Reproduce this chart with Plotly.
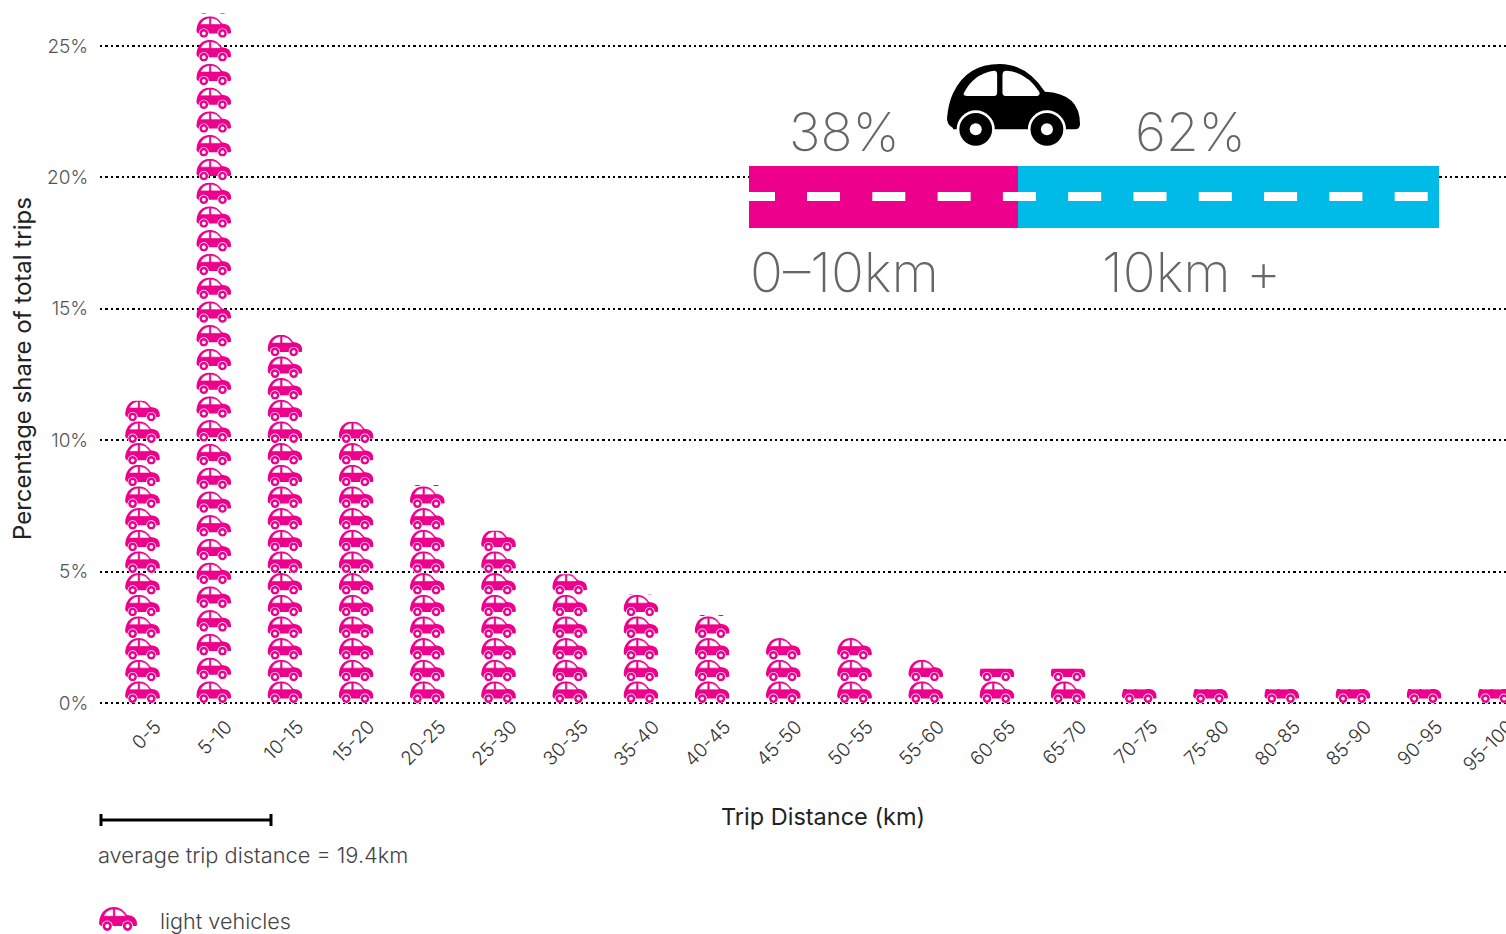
import base64
import plotly.graph_objects as go

distance_bins = ['0-5', '5-10', '10-15', '15-20', '20-25', '25-30', '30-35', '35-40', '40-45', '45-50',
                 '50-55', '55-60', '60-65', '65-70', '70-75', '75-80', '80-85', '85-90', '90-95', '95-100']
trip_share = [11.5, 26.25, 14.0, 10.7, 8.3, 6.55, 4.9, 4.15, 3.35, 2.47,
              2.47, 1.64, 1.3, 1.3, 0.53, 0.53, 0.53, 0.53, 0.53, 0.53]
# the 5-10 stack is spaced a bit wider than the others
share_per_car = [0.8245, 0.904, 0.8245, 0.8245, 0.8245, 0.8245, 0.8245, 0.8245, 0.8245, 0.8245,
                 0.8245, 0.8245, 0.8245, 0.8245, 0.8245, 0.8245, 0.8245, 0.8245, 0.8245, 0.8245]
y_ticks = [0, 5, 10, 15, 20, 25]
y_tick_labels = ['0%', '5%', '10%', '15%', '20%', '25%']

PINK = '#ec008c'
CYAN = '#00bbe7'
FONT = 'Inter'
CAR_HEIGHT = 0.8245
CAR_WIDTH = 0.49

# Page pixels of the plot area, everything outside the data is placed from these
LEFT, RIGHT, TOP, BOTTOM = 100, 1506, 12, 711


def px(x):
    return (x - LEFT) / (RIGHT - LEFT)


def py(y):
    return (BOTTOM - y) / (BOTTOM - TOP)


def car_image(color, hole, frame=0, fraction=1.0):
    # fraction keeps only the lower part of the car, for the top of a stack
    # frame thickens the window edges, the small cars need it
    top = 42 + 246 * (1 - fraction)
    windows = f'fill="#fff" stroke="{color}" stroke-width="{frame}"'
    svg = f'''<svg xmlns="http://www.w3.org/2000/svg" viewBox="622 {top} 398 {246 * fraction}" preserveAspectRatio="none">
<path fill="{color}" d="M640 234 Q622 226 622 205 Q626 160 640 130 Q680 42 780 42 Q860 42 915 125 Q1020 130 1020 222 Q1020 238 1005 238 L640 238 Z"/>
<path {windows} d="M672 130 Q700 72 762 62 Q772 62 772 72 L772 128 Q772 138 760 138 L682 138 Q670 138 672 130 Z"/>
<path {windows} d="M788 75 Q788 62 800 62 Q858 66 898 125 Q902 138 890 138 L800 138 Q788 138 788 128 Z"/>
<circle cx="708" cy="238" r="57" fill="#fff"/><circle cx="921" cy="238" r="57" fill="#fff"/>
<circle cx="708" cy="238" r="49" fill="{color}"/><circle cx="921" cy="238" r="49" fill="{color}"/>
<circle cx="708" cy="238" r="{hole}" fill="#fff"/><circle cx="921" cy="238" r="{hole}" fill="#fff"/>
</svg>'''
    return 'data:image/svg+xml;base64,' + base64.b64encode(svg.encode()).decode()


# Stack of cars per bin, the last one cut to what is left of the value
images = []
for i, share in enumerate(trip_share):
    step = share_per_car[i]
    n = 0
    while n * step < share - 0.01:
        height = min(CAR_HEIGHT, share - n * step)
        images.append(dict(source=car_image(PINK, 21, 8, height / CAR_HEIGHT), xref='x', yref='y', x=i,
                           y=n * step, sizex=CAR_WIDTH, sizey=height, sizing='stretch',
                           xanchor='center', yanchor='bottom', layer='above'))
        n += 1

# Big black car and the legend car
images.append(dict(source=car_image('#000', 18), xref='paper', yref='paper', x=px(947), y=py(64),
                   sizex=px(1080) - px(947), sizey=py(64) - py(146), sizing='stretch',
                   xanchor='left', yanchor='top', layer='above'))
images.append(dict(source=car_image(PINK, 21, 8), xref='paper', yref='paper', x=px(99), y=py(907),
                   sizex=px(137) - px(99), sizey=py(907) - py(931), sizing='stretch',
                   xanchor='left', yanchor='top', layer='above'))

shapes = [
    dict(type='rect', xref='paper', yref='paper', x0=px(749), x1=px(1018), y0=py(228), y1=py(166),
         fillcolor=PINK, line_width=0),
    dict(type='rect', xref='paper', yref='paper', x0=px(1018), x1=px(1439), y0=py(228), y1=py(166),
         fillcolor=CYAN, line_width=0),
    dict(type='line', xref='paper', yref='paper', x0=px(749), x1=px(775), y0=py(196.5), y1=py(196.5),
         line=dict(color='white', width=9)),
    dict(type='line', xref='paper', yref='paper', x0=px(807), x1=px(1429), y0=py(196.5), y1=py(196.5),
         line=dict(color='white', width=9, dash='33px,32.3px')),
    dict(type='line', xref='paper', yref='paper', x0=px(100), x1=px(272), y0=py(820), y1=py(820),
         line=dict(color='black', width=3)),
    dict(type='line', xref='paper', yref='paper', x0=px(101), x1=px(101), y0=py(814), y1=py(826),
         line=dict(color='black', width=3)),
    dict(type='line', xref='paper', yref='paper', x0=px(271), x1=px(271), y0=py(814), y1=py(826),
         line=dict(color='black', width=3)),
]


def label(text, x, y, size, color='#333', anchor='center', angle=0, weight=None):
    return dict(text=text, x=px(x), y=py(y), xref='paper', yref='paper', showarrow=False,
                xanchor=anchor, yanchor='middle', textangle=angle,
                font=dict(family=FONT, size=size, color=color, weight=weight))


annotations = [
    label('Percentage share of total trips', 22, 369, 24, '#222', angle=-90),
    label('Trip Distance (km)', 823, 816, 23.5, '#222'),
    label('average trip distance = 19.4km', 96, 855, 21.8, '#444', anchor='left', weight=300),
    label('light vehicles', 158, 921, 21.6, '#444', anchor='left', weight=300),
    label('38%', 845, 132, 53, '#666', weight=200),
    label('62%', 1190, 132, 53, '#666', weight=200),
    label('0–10km', 845, 272, 54.5, '#666', weight=200),
    label('10km +', 1191, 272, 54.5, '#666', weight=200),
]

# Bars stay invisible, the cars above are what shows
data = [go.Bar(x=distance_bins, y=trip_share, width=CAR_WIDTH, marker=dict(color=PINK, opacity=0),
               showlegend=False, name='light vehicles')]

layout = go.Layout(
    width=1506, height=934, margin=dict(l=LEFT, r=1506 - RIGHT, t=TOP, b=934 - BOTTOM, pad=0),
    plot_bgcolor='white', paper_bgcolor='white', font=dict(family=FONT, size=18, color='#555'),
    xaxis=dict(range=[-0.597, 19.15], tickangle=-45, showgrid=False, zeroline=False, showline=False,
               ticks='', tickfont=dict(size=19, color='#333', weight=300), ticklabelshift=13, ticklabelstandoff=0,
               automargin=False),
    yaxis=dict(range=[-0.304, 26.294], tickvals=y_ticks, ticktext=y_tick_labels, showgrid=True,
               gridcolor='black', gridwidth=2.4, griddash='2.4px,3px', zeroline=False, showline=False,
               ticks='outside', ticklen=7, tickcolor='white', tickfont=dict(size=19, color='#555', weight=300),
               automargin=False),
    images=images, shapes=shapes, annotations=annotations,
)

fig = go.Figure(data=data, layout=layout)
fig.write_html('out.html', config=dict(displayModeBar=False),
               post_script="document.body.style.margin='0';document.body.style.overflow='hidden';")
